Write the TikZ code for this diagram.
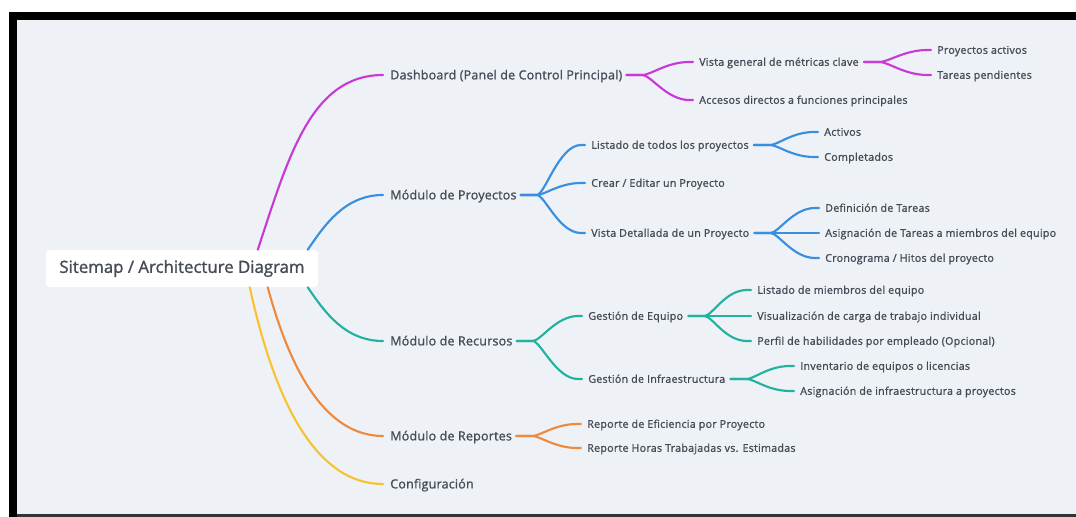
\documentclass[tikz,border=0pt]{standalone}
\usepackage{fontspec}
\setmainfont{Open Sans}
\newfontfamily\froot{Open Sans}[FakeBold=1.4]
\newfontfamily\fone{Open Sans}[FakeBold=1.2,LetterSpace=1.5]
\newfontfamily\ftwo{Open Sans}[FakeBold=1.2,LetterSpace=2.5]
\usetikzlibrary{calc}
\definecolor{bgc}{RGB}{238,242,246}
\definecolor{txt}{RGB}{70,76,87}
\definecolor{cmag}{RGB}{200,58,214}
\definecolor{cblu}{RGB}{58,142,224}
\definecolor{ctea}{RGB}{33,178,160}
\definecolor{cora}{RGB}{238,138,62}
\definecolor{cyel}{RGB}{246,196,50}
\begin{document}
\begin{tikzpicture}[x=0.75pt,y=-0.75pt,
  lone/.style={anchor=west,inner sep=0pt,text=txt,font=\fone\fontsize{9.4}{10}\selectfont,text height=6.6pt,text depth=0pt},
  ltwo/.style={anchor=west,inner sep=0pt,text=txt,font=\ftwo\fontsize{8}{9}\selectfont,text height=5.7pt,text depth=0pt},
  conn/.style={line width=1.6pt,line cap=round},
  br/.style={to path={-- ++(16,0) .. controls +(8,0) and +(-22,0) .. ($(\tikztotarget)+(-10,0)$) -- ($(\tikztotarget)+(-6,0)$)}}
]
\useasboundingbox (0,0) rectangle (1076,517);
\fill[white] (0,0) rectangle (1076,517);
\fill[black] (9,12) rectangle (1076,20);
\fill[black] (9,12) rectangle (17,517);
\fill[black!80] (17,514) rectangle (1076,517);
\fill[bgc] (17,20) rectangle (1076,514);

% root
\node[fill=white,rounded corners=2.5pt,minimum width=204pt,minimum height=27.75pt,inner sep=0pt,text=txt,font=\froot\fontsize{12.6}{14}\selectfont] (root) at (182,268.5) {Sitemap / Architecture Diagram};

% level 1
\node[lone] (dash) at (390,75) {Dashboard (Panel de Control Principal)};
\node[lone] (proy) at (390,195) {Módulo de Proyectos};
\node[lone] (recu) at (390,341) {Módulo de Recursos};
\node[lone] (repo) at (390,436) {Módulo de Reportes};
\node[lone] (conf) at (390,484) {Configuración};

% level 2+
\node[ltwo] (vista) at (699,62) {Vista general de métricas clave};
\node[ltwo] (acce) at (699,100) {Accesos directos a funciones principales};
\node[ltwo] (pact) at (937,50) {Proyectos activos};
\node[ltwo] (tpen) at (937,75) {Tareas pendientes};
\node[ltwo] (list) at (591,145) {Listado de todos los proyectos};
\node[ltwo] (crea) at (591,183) {Crear / Editar un Proyecto};
\node[ltwo] (vdet) at (591,233) {Vista Detallada de un Proyecto};
\node[ltwo] (acti) at (824,132) {Activos};
\node[ltwo] (comp) at (824,157) {Completados};
\node[ltwo] (defi) at (825,208) {Definición de Tareas};
\node[ltwo] (asig) at (825,233) {Asignación de Tareas a miembros del equipo};
\node[ltwo] (cron) at (825,258) {Cronograma / Hitos del proyecto};
\node[ltwo] (geq) at (588,316) {Gestión de Equipo};
\node[ltwo] (ginf) at (588,379) {Gestión de Infraestructura};
\node[ltwo] (lmie) at (757,290) {Listado de miembros del equipo};
\node[ltwo] (visu) at (757,316) {Visualización de carga de trabajo individual};
\node[ltwo] (perf) at (757,341) {Perfil de habilidades por empleado (Opcional)};
\node[ltwo] (inve) at (800,366) {Inventario de equipos o licencias};
\node[ltwo] (asin) at (800,391) {Asignación de infraestructura a proyectos};
\node[ltwo] (refi) at (587,424) {Reporte de Eficiencia por Proyecto};
\node[ltwo] (rhor) at (587,448) {Reporte Horas Trabajadas vs. Estimadas};

% root connectors
\draw[conn,cmag] ($(root.north west)+(212,0)$) .. controls +(30,-90) and +(-73,0) .. ($(dash.west)+(-7,0)$);
\draw[conn,cblu] ($(root.north west)+(262,0)$) .. controls +(17,-25) and +(-38,0) .. ($(proy.west)+(-7,0)$);
\draw[conn,ctea] ($(root.south west)+(262,0)$) .. controls +(17,25) and +(-38,0) .. ($(recu.west)+(-7,0)$);
\draw[conn,cora] ($(root.south west)+(222,0)$) .. controls +(19,70) and +(-63,0) .. ($(repo.west)+(-7,0)$);
\draw[conn,cyel] ($(root.south west)+(204,0)$) .. controls +(22,100) and +(-73,0) .. ($(conf.west)+(-7,0)$);

% branch connectors
\draw[conn,cmag] ($(dash.east)+(4,0)$) to[br] (vista.west);
\draw[conn,cmag] ($(dash.east)+(4,0)$) to[br] (acce.west);
\draw[conn,cmag] ($(vista.east)+(5,0)$) to[br] (pact.west);
\draw[conn,cmag] ($(vista.east)+(5,0)$) to[br] (tpen.west);

\draw[conn,cblu] ($(proy.east)+(4,0)$) to[br] (list.west);
\draw[conn,cblu] ($(proy.east)+(4,0)$) to[br] (crea.west);
\draw[conn,cblu] ($(proy.east)+(4,0)$) to[br] (vdet.west);
\draw[conn,cblu] ($(list.east)+(5,0)$) to[br] (acti.west);
\draw[conn,cblu] ($(list.east)+(5,0)$) to[br] (comp.west);
\draw[conn,cblu] ($(vdet.east)+(5,0)$) to[br] (defi.west);
\draw[conn,cblu] ($(vdet.east)+(5,0)$) to[br] (asig.west);
\draw[conn,cblu] ($(vdet.east)+(5,0)$) to[br] (cron.west);

\draw[conn,ctea] ($(recu.east)+(4,0)$) to[br] (geq.west);
\draw[conn,ctea] ($(recu.east)+(4,0)$) to[br] (ginf.west);
\draw[conn,ctea] ($(geq.east)+(5,0)$) to[br] (lmie.west);
\draw[conn,ctea] ($(geq.east)+(5,0)$) to[br] (visu.west);
\draw[conn,ctea] ($(geq.east)+(5,0)$) to[br] (perf.west);
\draw[conn,ctea] ($(ginf.east)+(5,0)$) to[br] (inve.west);
\draw[conn,ctea] ($(ginf.east)+(5,0)$) to[br] (asin.west);

\draw[conn,cora] ($(repo.east)+(4,0)$) to[br] (refi.west);
\draw[conn,cora] ($(repo.east)+(4,0)$) to[br] (rhor.west);
\end{tikzpicture}
\end{document}
